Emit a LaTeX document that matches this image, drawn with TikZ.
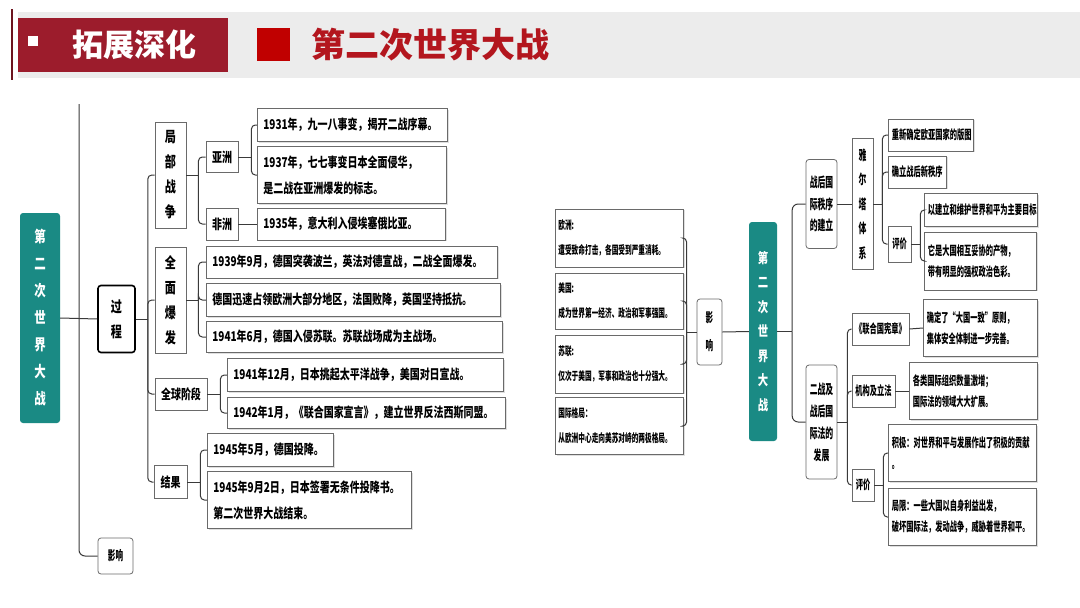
\documentclass[tikz,border=0pt]{standalone}
\usepackage{fontspec}
\usetikzlibrary{positioning,shadows}
\newfontfamily\cjk{Noto Sans CJK SC}[FakeStretch=0.74]
\newfontfamily\cjkn{Noto Sans CJK SC}[FakeStretch=0.58]
\newfontfamily\cjkw{Noto Sans CJK SC}
\definecolor{pine}{HTML}{1A8A84}
\definecolor{hdrred}{HTML}{9C1C2C}
\definecolor{markred}{HTML}{C00000}
\definecolor{titlered}{HTML}{B3161E}
\definecolor{band}{HTML}{ECECEC}
\definecolor{boxgray}{HTML}{6A6A6A}
\definecolor{linkgray}{HTML}{3A3A3A}
\tikzset{
  leaf/.style={draw=boxgray,fill=white,line width=0.8pt,anchor=west,align=left,inner xsep=6pt,inner ysep=0pt,font=\cjk\bfseries\fontsize{13.5}{26}\selectfont,drop shadow={shadow xshift=1.2pt,shadow yshift=-1.2pt,opacity=0.25}},
  note/.style={leaf,inner xsep=3.5pt,font=\cjkn\bfseries\fontsize{12.5}{21}\selectfont},
  midnote/.style={note,inner xsep=3pt,text width=122pt,font=\cjkn\bfseries\fontsize{11.5}{25}\selectfont},
  topic/.style={draw=boxgray,fill=white,line width=0.8pt,align=center,inner sep=0pt,font=\cjk\bfseries\fontsize{15}{25}\selectfont},
  subtopic/.style={topic,font=\cjkn\bfseries\fontsize{12.5}{21.5}\selectfont},
  hub/.style={topic,rounded corners=3pt},
  root/.style={fill=pine,rounded corners=3pt,text=white,align=center,inner sep=0pt},
  link/.style={draw=linkgray,line width=1pt,rounded corners=4pt}
}
\begin{document}
\begin{tikzpicture}[x=1pt,y=-1pt]
  \useasboundingbox[fill=white] (0,0) rectangle (1080,608);
  % header
  \fill[band] (18,12) rectangle (1080,78);
  \fill[hdrred] (18,18) rectangle (228,72);
  \draw[line width=1.2pt,hdrred!70!black] (12,9) -- (12,80);
  \fill[white] (28,36) rectangle (38,46);
  \node[text=white,font=\cjkw\bfseries\fontsize{31}{31}\selectfont] (hdr) at (134,45) {拓展深化};
  \fill[markred] (257,28) rectangle (290,61);
  \node[anchor=west,inner sep=0pt,text=titlered,font=\cjkw\bfseries\fontsize{34}{34}\selectfont] (ttl) at (311,45) {第二次世界大战};

  % left tree
  \node[root,minimum width=40pt,minimum height=210pt,font=\cjk\bfseries\fontsize{15.5}{27}\selectfont] (rootL) at (40,318) {第\\二\\次\\世\\界\\大\\战};
  \node[hub,draw=black,line width=1.6pt,minimum width=37pt,minimum height=67pt] (proc) at (116.5,319) {过\\程};
  \node[hub,minimum width=35pt,minimum height=36pt,font=\cjkn\bfseries\fontsize{13}{14}\selectfont] (effL) at (115.5,556) {影响};
  \coordinate (sptop) at (79,104);
  \draw[link] (rootL.east) -- (proc.west);
  \draw[link,rounded corners=6pt] (sptop) |- (effL.west);

  \node[topic,minimum width=31pt,minimum height=106pt] (loc) at (170.5,175) {局\\部\\战\\争};
  \node[topic,minimum width=31pt,minimum height=106pt] (full) at (170.5,300) {全\\面\\爆\\发};
  \node[topic,minimum width=52pt,minimum height=32pt,font=\cjk\bfseries\fontsize{13.5}{16}\selectfont] (glob) at (181,394) {全球阶段};
  \node[topic,minimum width=33pt,minimum height=33pt,font=\cjk\bfseries\fontsize{13.5}{16}\selectfont] (res) at (170.5,482) {结果};
  \coordinate[right=12pt of proc] (jp);
  \draw[link] (proc.east) -- (jp);
  \foreach \c in {loc,full,glob,res} \draw[link] (jp) |- (\c.west);

  \node[topic,minimum width=32pt,minimum height=31pt,font=\cjk\bfseries\fontsize{13.5}{16}\selectfont] (asia) at (222,157) {亚洲};
  \node[topic,minimum width=32pt,minimum height=32pt,font=\cjk\bfseries\fontsize{13.5}{16}\selectfont] (afr) at (222,224) {非洲};
  \coordinate[right=12pt of loc] (jl);
  \draw[link] (loc.east) -- (jl);
  \foreach \c in {asia,afr} \draw[link] (jl) |- (\c.west);

  \node[leaf,text width=178pt,minimum height=33pt] (a1) at (257,125) {1931年，九一八事变，揭开二战序幕。};
  \node[leaf,text width=177pt,minimum height=57pt] (a2) at (257,175) {1937年，七七事变日本全面侵华，\\是二战在亚洲爆发的标志。};
  \node[leaf,text width=176pt,minimum height=32pt] (f1) at (257,224) {1935年，意大利入侵埃塞俄比亚。};
  \coordinate[right=13pt of asia] (ja);
  \draw[link] (asia.east) -- (ja);
  \foreach \c in {a1,a2} \draw[link] (ja) |- (\c.west);
  \draw[link] (afr.east) -- (f1.west);

  \node[leaf,text width=279pt,minimum height=32pt] (b1) at (206,262) {1939年9月，德国突袭波兰，英法对德宣战，二战全面爆发。};
  \node[leaf,text width=282pt,minimum height=33pt] (b2) at (206,300) {德国迅速占领欧洲大部分地区，法国败降，英国坚持抵抗。};
  \node[leaf,text width=284pt,minimum height=31pt] (b3) at (206,337) {1941年6月，德国入侵苏联。苏联战场成为主战场。};
  \coordinate[right=12pt of full] (jf);
  \draw[link] (full.east) -- (jf);
  \foreach \c in {b1,b2,b3} \draw[link] (jf) |- (\c.west);

  \node[leaf,text width=264pt,minimum height=33pt] (g1) at (227,375) {1941年12月，日本挑起太平洋战争，美国对日宣战。};
  \node[leaf,text width=266pt,minimum height=31pt] (g2) at (227,413) {1942年1月，《联合国家宣言》，建立世界反法西斯同盟。};
  \coordinate[right=13pt of glob] (jg);
  \draw[link] (glob.east) -- (jg);
  \foreach \c in {g1,g2} \draw[link] (jg) |- (\c.west);

  \node[leaf,text width=114pt,minimum height=33pt] (r1) at (207,450) {1945年5月，德国投降。};
  \node[leaf,text width=192pt,minimum height=57pt] (r2) at (207,500) {1945年9月2日，日本签署无条件投降书。\\第二次世界大战结束。};
  \coordinate[right=13pt of res] (jr);
  \draw[link] (res.east) -- (jr);
  \foreach \c in {r1,r2} \draw[link] (jr) |- (\c.west);

  % middle panel
  \node[midnote,minimum height=58pt] (m1) at (555,238) {欧洲:\\遭受致命打击，各国受到严重消耗。};
  \node[midnote,minimum height=56pt] (m2) at (555,301) {美国:\\成为世界第一经济、政治和军事强国。};
  \node[midnote,minimum height=58pt] (m3) at (555,364) {苏联:\\仅次于美国，军事和政治也十分强大。};
  \node[midnote,minimum height=57pt] (m4) at (555,426) {国际格局：\\从欧洲中心走向美苏对峙的两极格局。};
  \node[hub,minimum width=25pt,minimum height=66pt,font=\cjkn\bfseries\fontsize{13}{28}\selectfont] (effM) at (709.5,332) {影\\响};
  \coordinate[left=10pt of effM] (jm);
  \draw[link] (effM.west) -- (jm);
  \foreach \c in {m1,m2,m3,m4} \draw[link] (jm) |- (\c.east);

  % right tree
  \node[root,minimum width=28pt,minimum height=219pt,font=\cjk\bfseries\fontsize{14}{24.5}\selectfont] (rootR) at (763,331.5) {第\\二\\次\\世\\界\\大\\战};
  \draw[link] (effM.east) -- (rootR.west);
  \node[hub,minimum width=31pt,minimum height=89pt,font=\cjkn\bfseries\fontsize{13.5}{21.5}\selectfont] (ord) at (821.5,204) {战后国\\际秩序\\的建立};
  \node[hub,minimum width=31pt,minimum height=114pt,font=\cjkn\bfseries\fontsize{13.5}{22}\selectfont] (law) at (821.5,422) {二战及\\战后国\\际法的\\发展};
  \coordinate[right=15pt of rootR] (jR);
  \draw[link] (rootR.east) -- (jR);
  \foreach \c in {ord,law} \draw[link,rounded corners=6pt] (jR) |- (\c.west);

  \node[subtopic,minimum width=21pt,minimum height=131pt,font=\cjkn\bfseries\fontsize{13.5}{24.5}\selectfont] (yalta) at (862.5,204) {雅\\尔\\塔\\体\\系};
  \draw[link] (ord.east) -- (yalta.west);
  \node[note,text width=78pt,minimum height=32pt] (y1) at (888,135) {重新确定欧亚国家的版图};
  \node[note,text width=51pt,minimum height=32pt] (y2) at (888,172) {确立战后新秩序};
  \node[subtopic,minimum width=23pt,minimum height=36pt] (yev) at (899.5,244) {评价};
  \coordinate[right=9pt of yalta] (jy);
  \draw[link] (yalta.east) -- (jy);
  \foreach \c in {y1,y2,yev} \draw[link] (jy) |- (\c.west);
  \node[note,text width=106pt,minimum height=33pt] (e1) at (924,210) {以建立和维护世界和平为主要目标};
  \node[note,text width=105pt,minimum height=58pt] (e2) at (924,261) {它是大国相互妥协的产物，\\带有明显的强权政治色彩。};
  \coordinate[right=9pt of yev] (je);
  \draw[link] (yev.east) -- (je);
  \foreach \c in {e1,e2} \draw[link] (je) |- (\c.west);

  \node[subtopic,minimum width=57pt,minimum height=32pt] (un) at (880.5,329) {《联合国宪章》};
  \node[subtopic,minimum width=43pt,minimum height=32pt] (inst) at (873.5,391) {机构及立法};
  \node[subtopic,minimum width=22pt,minimum height=32pt] (lev) at (863,485) {评价};
  \coordinate[right=10pt of law] (jw);
  \draw[link] (law.east) -- (jw);
  \foreach \c in {un,inst,lev} \draw[link] (jw) |- (\c.west);
  \node[note,text width=107pt,minimum height=57pt] (u1) at (923,328) {确定了“大国一致”原则，\\集体安全体制进一步完善。};
  \node[note,text width=121pt,minimum height=57pt] (i1) at (909,391) {各类国际组织数量激增；\\国际法的领域大大扩展。};
  \draw[link] (un.east) -- (u1.west);
  \draw[link] (inst.east) -- (i1.west);
  \node[note,text width=141pt,minimum height=57pt] (l1) at (888,453) {积极：对世界和平与发展作出了积极的贡献\\。};
  \node[note,text width=141pt,minimum height=57pt] (l2) at (888,517) {局限：一些大国以自身利益出发，\\破坏国际法，发动战争，威胁着世界和平。};
  \coordinate[right=9pt of lev] (jv);
  \draw[link] (lev.east) -- (jv);
  \foreach \c in {l1,l2} \draw[link] (jv) |- (\c.west);
\end{tikzpicture}
\end{document}
